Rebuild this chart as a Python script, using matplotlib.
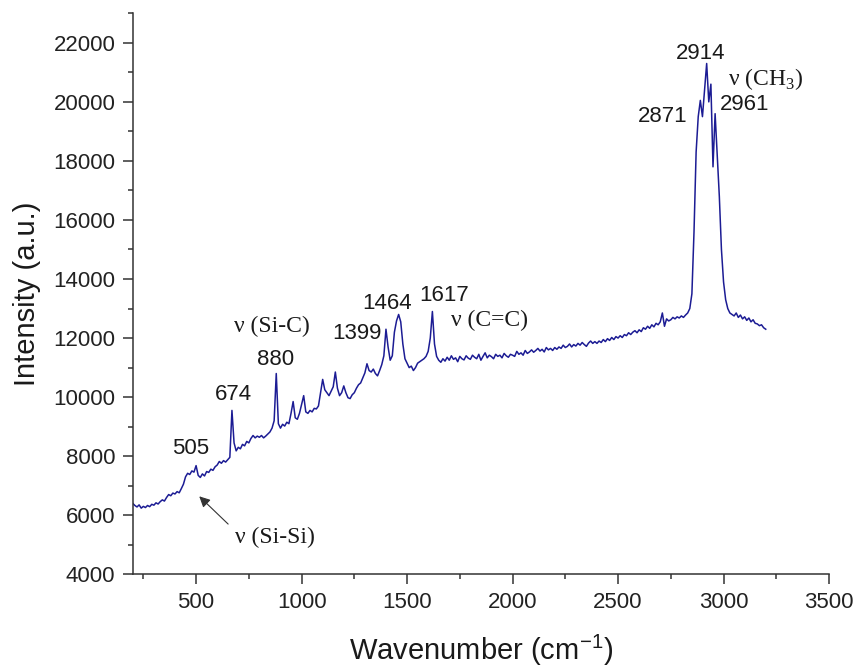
import numpy as np
import matplotlib
matplotlib.use('Agg')
import matplotlib.pyplot as plt

plt.rcParams['font.family'] = ['Liberation Sans', 'DejaVu Sans']
plt.rcParams['mathtext.fontset'] = 'custom'
plt.rcParams['mathtext.rm'] = 'Liberation Sans'

# Raman spectrum, intensity every 10 cm-1 from 200 to 3200
wavenumber = np.arange(200, 3201, 10)
intensity = [
    6400, 6330, 6280, 6350, 6240, 6300, 6260, 6330, 6290, 6370,
    6340, 6420, 6380, 6460, 6520, 6480, 6600, 6700, 6660, 6750,
    6720, 6800, 6760, 6900, 7050, 7300, 7420, 7380, 7500, 7460,
    7680, 7350, 7280, 7400, 7330, 7480, 7450, 7560, 7520, 7640,
    7700, 7820, 7760, 7850, 7800, 7880, 7960, 9550, 8450, 8180,
    8300, 8250, 8400, 8350, 8500, 8450, 8600, 8700, 8620, 8680,
    8640, 8700, 8620, 8680, 8750, 8820, 8950, 9200, 10800, 9100,
    8950, 9080, 9020, 9150, 9100, 9450, 9850, 9300, 9250, 9450,
    9750, 10050, 9500, 9450, 9550, 9500, 9620, 9600, 9700, 10150,
    10600, 10250, 10150, 10050, 10200, 10350, 10850, 10300, 10050, 10150,
    10380, 10150, 9980, 9950, 10080, 10150, 10300, 10420, 10480, 10650,
    10820, 11130, 10900, 10850, 10950, 10800, 10720, 10900, 11100, 11400,
    12300, 11700, 11250, 11400, 12200, 12580, 12800, 12550, 11800, 11300,
    11150, 11000, 11050, 10900, 11000, 11150, 11200, 11250, 11300, 11380,
    11550, 12000, 12900, 11800, 11380, 11250, 11180, 11300, 11220, 11350,
    11250, 11400, 11280, 11330, 11200, 11380, 11300, 11260, 11400, 11320,
    11280, 11420, 11350, 11300, 11450, 11250, 11380, 11500, 11330, 11420,
    11370, 11300, 11450, 11380, 11420, 11330, 11480, 11400, 11350, 11450,
    11420, 11380, 11550, 11450, 11500, 11420, 11580, 11480, 11530, 11600,
    11520, 11580, 11650, 11560, 11620, 11530, 11680, 11600, 11650, 11580,
    11680, 11620, 11700, 11650, 11760, 11680, 11720, 11800, 11700, 11780,
    11730, 11820, 11760, 11850, 11780, 11720, 11830, 11900, 11820, 11880,
    11820, 11900, 11850, 11950, 11880, 11980, 11920, 12020, 11950, 12050,
    12000, 12080, 12020, 12120, 12080, 12180, 12120, 12200, 12250, 12180,
    12280, 12220, 12350, 12300, 12400, 12330, 12450, 12380, 12500, 12450,
    12550, 12850, 12400, 12650, 12580, 12620, 12700, 12650, 12720, 12680,
    12750, 12700, 12780, 12850, 13000, 13500, 15600, 18300, 19500, 20050,
    19500, 20400, 21300, 20000, 20600, 17800, 19600, 18200, 16800, 15000,
    13900, 13300, 13000, 12850, 12800, 12750, 12850, 12700, 12780, 12650,
    12720, 12600, 12680, 12550, 12620, 12500, 12480, 12420, 12450, 12350,
    12300,
]

# peak labels (wavenumber text) and where they sit
peak_labels = ['505', '674', '880', '1399', '1464', '1617', '2871', '2914', '2961']
peak_label_x = [472, 676, 875, 1264, 1407, 1677, 2713, 2893, 3102]
peak_label_y = [8090, 9910, 11090, 11970, 12980, 13250, 19320, 21450, 19730]

# band assignments
bands = ['ν (Si-C)', 'ν (C=C)', r'ν (CH$_\mathregular{3}$)', 'ν (Si-Si)']
band_x = [861, 1891, 3202, 875]
band_y = [12210, 12410, 20570, 5060]

fig = plt.figure(figsize=(8.6, 6.68), dpi=100)
ax = fig.add_axes([0.1544, 0.1403, 0.8096, 0.8398])

ax.plot(wavenumber, intensity, color='#1c1c94', lw=1.1)

for lab, x, y in zip(peak_labels, peak_label_x, peak_label_y):
    ax.text(x, y, lab, ha='center', va='baseline', fontsize=16, color='#1a1a1a')

for lab, x, y in zip(bands, band_x, band_y):
    ax.text(x, y, lab, ha='center', va='baseline', fontsize=17,
            family=['Liberation Serif', 'DejaVu Serif'], color='#1a1a1a')

ax.annotate('', xy=(515, 6640), xytext=(652, 5700),
            arrowprops=dict(arrowstyle='-|>', color='#333333', lw=0.8,
                            mutation_scale=16, shrinkA=0, shrinkB=0))

ax.set_xlim(200, 3500)
ax.set_ylim(4000, 23000)
ax.set_xticks(np.arange(500, 3501, 500))
ax.set_xticks(np.arange(250, 3501, 250), minor=True)
ax.set_yticks(np.arange(4000, 22001, 2000))
ax.set_yticks(np.arange(4000, 23001, 1000), minor=True)

for side in ['top', 'right']:
    ax.spines[side].set_visible(False)
for side in ['left', 'bottom']:
    ax.spines[side].set_linewidth(1.1)
    ax.spines[side].set_color('#333333')

ax.tick_params(which='major', direction='out', length=7.5, width=1.1,
               color='#333333', labelsize=16, labelcolor='#222222')
ax.tick_params(which='minor', direction='out', length=3.8, width=1.1,
               color='#333333')
ax.tick_params(axis='x', pad=5)
ax.tick_params(axis='y', pad=5)

ax.set_xlabel(r'Wavenumber (cm$^{\mathregular{-1}}$)', fontsize=21, color='#1a1a1a')
ax.set_ylabel('Intensity (a.u.)', fontsize=21, color='#1a1a1a')
ax.xaxis.set_label_coords(0.5, -0.104)
ax.yaxis.set_label_coords(-0.132, 0.5)

fig.savefig('out.png', dpi=100)
